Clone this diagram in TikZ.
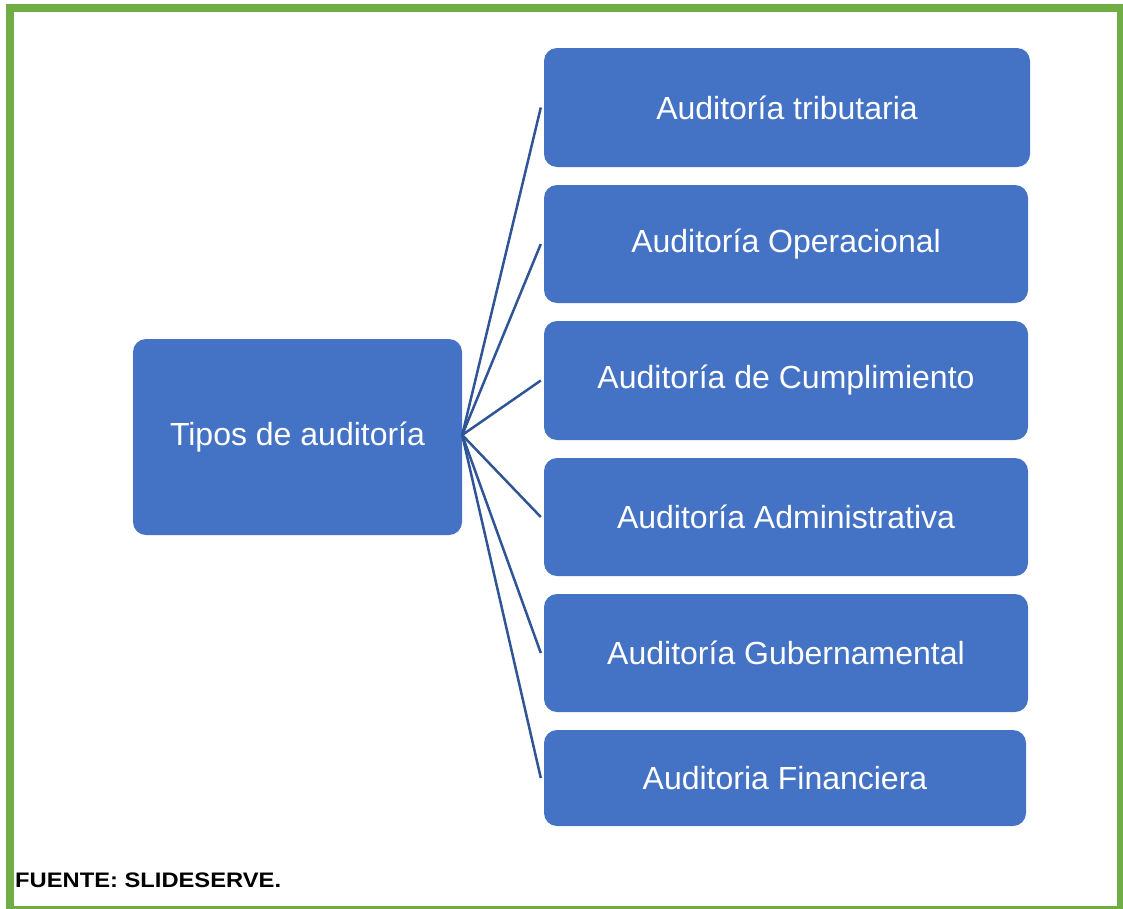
\documentclass[tikz,border=0pt]{standalone}
\usepackage{fontspec}
\setmainfont{Liberation Sans}
\definecolor{boxblue}{HTML}{4472C4}
\definecolor{lineblue}{HTML}{2F5597}
\definecolor{framegreen}{HTML}{70AD47}
\begin{document}
\begin{tikzpicture}[x=1pt,y=-1pt,
  box/.style={fill=boxblue, rounded corners=13pt, text=white, inner sep=0pt,
    font=\fontsize{32}{36}\selectfont, anchor=center},
  link/.style={draw=lineblue, line width=2.5pt}]
\useasboundingbox (0,0) rectangle (1123,908);
\draw[framegreen, line width=8pt] (10,8) rectangle (1121,910);
\node[box, minimum width=329pt, minimum height=196pt] (c) at (297.5,437) {Tipos de auditoría};
\node[box, minimum width=486pt, minimum height=119pt] (b1) at (787,107.5) {Auditoría tributaria};
\node[box, minimum width=484pt, minimum height=118pt] (b2) at (786,244) {Auditoría Operacional};
\node[box, minimum width=484pt, minimum height=119pt] (b3) at (786,380.5) {Auditoría de Cumplimiento};
\node[box, minimum width=484pt, minimum height=118pt] (b4) at (786,517) {Auditoría Administrativa};
\node[box, minimum width=484pt, minimum height=118pt] (b5) at (786,653) {Auditoría Gubernamental};
\node[box, minimum width=482pt, minimum height=96pt] (b6) at (785,778) {Auditoria Financiera};
\foreach \b in {b1,b2,b3,b4,b5,b6}
  \draw[link] ([yshift=2pt]c.east) -- ([xshift=-3pt]\b.west);
\node[anchor=base west, inner sep=0pt, font=\bfseries\fontsize{21}{24}\selectfont] (f) at (15,887) {\scalebox{1.13}[1]{FUENTE: SLIDESERVE.}};
\end{tikzpicture}
\end{document}
